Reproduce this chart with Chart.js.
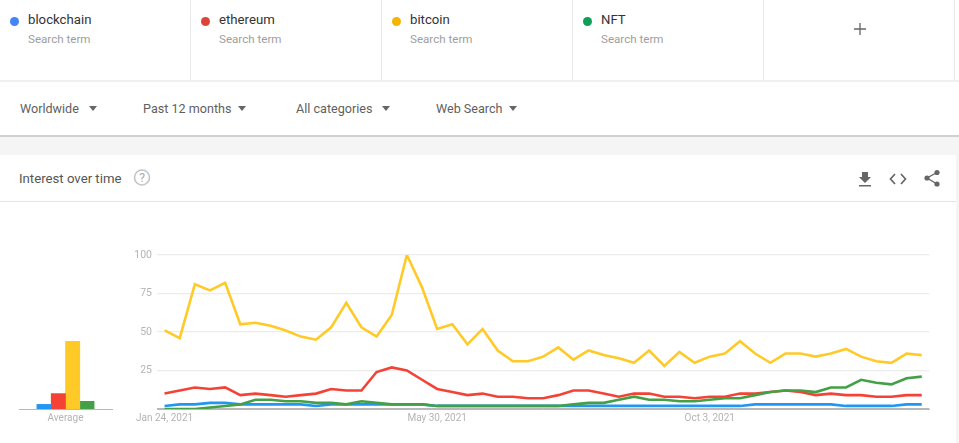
<!DOCTYPE html>
<html>
<head>
<meta charset="utf-8">
<title>Interest over time</title>
<script src="https://cdn.jsdelivr.net/npm/chart.js@4/dist/chart.umd.min.js"></script>
<style>
  html, body { margin: 0; padding: 0; background: #fff; }
  body { width: 959px; height: 443px; position: relative; overflow: hidden; font-family: Roboto, sans-serif; }
  .abs { position: absolute; }
  .cell { position: absolute; top: 0; width: 190px; height: 80px; border-right: 1px solid #e8e8e8; }
  .dot { position: absolute; width: 9px; height: 9px; border-radius: 50%; top: 16.5px; left: 9.5px; }
  .term { position: absolute; left: 28px; top: 11px; font-size: 13.2px; line-height: 17px; color: #333; white-space: nowrap; }
  .sub { position: absolute; left: 28px; top: 31.5px; font-size: 11.6px; line-height: 15px; color: #9e9e9e; white-space: nowrap; }
  .filter { position: absolute; top: 100.5px; font-size: 12.6px; line-height: 16px; color: #5f5f5f; white-space: nowrap; }
  .arrow { position: absolute; top: 106px; width: 0; height: 0; border-left: 4.5px solid transparent; border-right: 4.5px solid transparent; border-top: 5px solid #666; }
  canvas { position: absolute; display: block; }
</style>
</head>
<body>
  <div class="abs" style="left:0;top:80px;width:959px;height:1.5px;background:#f0f0f0"></div>

  <div class="cell" style="left:0"><span class="dot" style="background:#4285f4"></span><span class="term">blockchain</span><span class="sub">Search term</span></div>
  <div class="cell" style="left:191px"><span class="dot" style="background:#db4437"></span><span class="term">ethereum</span><span class="sub">Search term</span></div>
  <div class="cell" style="left:382px"><span class="dot" style="background:#f4b400"></span><span class="term">bitcoin</span><span class="sub">Search term</span></div>
  <div class="cell" style="left:573px"><span class="dot" style="background:#0f9d58"></span><span class="term">NFT</span><span class="sub">Search term</span></div>
  <div class="cell" style="left:764px"></div>
  <svg class="abs" style="left:853px;top:22px" width="14" height="14"><path d="M7 1V13M1 7H13" stroke="#666" stroke-width="1.3" fill="none"/></svg>

  <span class="filter" style="left:20px">Worldwide</span><span class="arrow" style="left:88.5px"></span>
  <span class="filter" style="left:143px">Past 12 months</span><span class="arrow" style="left:237.5px"></span>
  <span class="filter" style="left:296px">All categories</span><span class="arrow" style="left:381.5px"></span>
  <span class="filter" style="left:436px">Web Search</span><span class="arrow" style="left:508.5px"></span>

  <div class="abs" style="left:0;top:135px;width:959px;height:308px;background:#f5f5f5;border-top:2px solid #d0d0d0;box-sizing:border-box"></div>
  <div class="abs" style="left:0;top:155px;width:956px;height:288px;background:#fff"></div>
  <div class="abs" style="left:0;top:201px;width:956px;height:1px;background:#e4e4e4"></div>

  <span class="abs" style="left:19px;top:170px;font-size:13.2px;line-height:17px;color:#555;white-space:nowrap">Interest over time</span>
  <svg class="abs" style="left:133px;top:168px" width="18" height="18">
    <circle cx="9" cy="9.5" r="7.5" stroke="#c4c4c4" stroke-width="1.6" fill="none"/>
    <text x="9" y="13.5" text-anchor="middle" font-family="Roboto" font-size="12" fill="#aaa">?</text>
  </svg>
  <svg class="abs" style="left:857px;top:171px" width="16" height="16"><path d="M5 1H11V6H14L8 12L2 6H5ZM2 14H14V15.5H2Z" fill="#666"/></svg>
  <svg class="abs" style="left:889px;top:171px" width="18" height="16"><path d="M6 3L1.5 8L6 13M12 3L16.5 8L12 13" stroke="#666" stroke-width="1.7" fill="none"/></svg>
  <svg class="abs" style="left:923px;top:169px" width="18" height="18">
    <path d="M14 3.5L4 9L14 15" stroke="#666" stroke-width="1.4" fill="none"/>
    <circle cx="14" cy="3.5" r="2.6" fill="#666"/><circle cx="4" cy="9" r="2.6" fill="#666"/><circle cx="14" cy="15" r="2.6" fill="#666"/>
  </svg>

  <canvas id="avgChart" width="120" height="190" style="left:0;top:240px"></canvas>
  <canvas id="trendChart" width="839" height="190" style="left:120px;top:240px"></canvas>

<script>
const weeks = [
  'Jan 24, 2021', 'Jan 31, 2021', 'Feb 7, 2021', 'Feb 14, 2021', 'Feb 21, 2021', 'Feb 28, 2021',
  'Mar 7, 2021', 'Mar 14, 2021', 'Mar 21, 2021', 'Mar 28, 2021', 'Apr 4, 2021', 'Apr 11, 2021',
  'Apr 18, 2021', 'Apr 25, 2021', 'May 2, 2021', 'May 9, 2021', 'May 16, 2021', 'May 23, 2021',
  'May 30, 2021', 'Jun 6, 2021', 'Jun 13, 2021', 'Jun 20, 2021', 'Jun 27, 2021', 'Jul 4, 2021',
  'Jul 11, 2021', 'Jul 18, 2021', 'Jul 25, 2021', 'Aug 1, 2021', 'Aug 8, 2021', 'Aug 15, 2021',
  'Aug 22, 2021', 'Aug 29, 2021', 'Sep 5, 2021', 'Sep 12, 2021', 'Sep 19, 2021', 'Sep 26, 2021',
  'Oct 3, 2021', 'Oct 10, 2021', 'Oct 17, 2021', 'Oct 24, 2021', 'Oct 31, 2021', 'Nov 7, 2021',
  'Nov 14, 2021', 'Nov 21, 2021', 'Nov 28, 2021', 'Dec 5, 2021', 'Dec 12, 2021', 'Dec 19, 2021',
  'Dec 26, 2021', 'Jan 2, 2022', 'Jan 9, 2022'
];
const shownWeeks = ['Jan 24, 2021', 'May 30, 2021', 'Oct 3, 2021'];
const yTicks = [0, 25, 50, 75, 100];

const blockchain = [2,3,3,4,4,3,3,3,3,3,2,3,3,3,3,3,3,3,2,2,2,2,2,2,2,2,2,2,2,2,2,2,2,2,2,2,2,2,2,3,3,3,3,3,3,2,2,2,2,3,3];
const ethereum = [10,12,14,13,14,9,10,9,8,9,10,13,12,12,24,27,25,19,13,11,9,10,8,8,7,7,9,12,12,10,8,10,10,8,8,7,8,8,10,10,11,12,11,9,10,9,9,8,8,9,9];
const bitcoin = [51,46,81,77,82,55,56,54,51,47,45,53,69,53,47,61,100,79,52,55,42,52,38,31,31,34,40,32,38,35,33,30,38,28,37,30,34,36,44,36,30,36,36,34,36,39,34,31,30,36,35];
const nft = [0,0,0,1,2,3,6,6,5,5,4,4,3,5,4,3,3,3,2,2,2,2,2,2,2,2,2,3,4,4,6,8,6,6,5,5,6,7,7,9,11,12,12,11,14,14,19,17,16,20,21];

const averageLabel = ['Average'];
const averages = [3, 10, 44, 5];
const termNames = ['blockchain', 'ethereum', 'bitcoin', 'NFT'];
const lineColors = ['#2196f3', '#f44336', '#ffca28', '#43a047'];

const tickColor = '#b4b4b4';
const axisColor = '#b8b8b8';
const gridColor = '#ececec';

const trendSeries = [blockchain, ethereum, bitcoin, nft];

new Chart(document.getElementById('trendChart'), {
  type: 'line',
  data: {
    labels: weeks,
    datasets: trendSeries.map((values, i) => ({
      label: termNames[i],
      data: values,
      borderColor: lineColors[i],
      borderWidth: 2.6,
      pointRadius: 0,
      tension: 0,
      // google draws the later terms on top
      order: trendSeries.length - i
    }))
  },
  options: {
    responsive: false,
    animation: false,
    layout: { padding: { top: 15, right: 29.7, left: 0, bottom: 0 } },
    plugins: { legend: { display: false }, tooltip: { enabled: false } },
    scales: {
      x: {
        offset: true,
        afterFit: scale => { scale.height = 21; },
        grid: { display: false, drawTicks: false },
        border: { color: axisColor },
        ticks: {
          autoSkip: false,
          maxRotation: 0,
          padding: 3,
          color: tickColor,
          font: { family: 'Roboto', size: 10 },
          callback: function (value) {
            const name = this.getLabelForValue(value);
            return shownWeeks.includes(name) ? name : null;
          }
        }
      },
      y: {
        min: 0,
        max: 100,
        afterFit: scale => { scale.width = 37; },
        afterBuildTicks: scale => { scale.ticks = yTicks.map(value => ({ value })); },
        grid: {
          drawTicks: false,
          color: ctx => (ctx.tick.value === 0 ? axisColor : gridColor),
          lineWidth: 1.2
        },
        border: { display: false },
        ticks: {
          padding: 5,
          color: tickColor,
          font: { family: 'Roboto', size: 10.5 },
          callback: value => (value === 0 ? '' : value)
        }
      }
    }
  }
});

new Chart(document.getElementById('avgChart'), {
  type: 'bar',
  data: {
    labels: averageLabel,
    datasets: averages.map((value, i) => ({
      label: termNames[i],
      data: [value],
      backgroundColor: lineColors[i],
      barThickness: 14.3
    }))
  },
  options: {
    responsive: false,
    animation: false,
    layout: { padding: { top: 15, right: 8, left: 19, bottom: 0 } },
    plugins: { legend: { display: false }, tooltip: { enabled: false } },
    scales: {
      x: {
        afterFit: scale => { scale.height = 21; },
        grid: { display: false, drawTicks: false },
        border: { color: axisColor },
        ticks: { padding: 3, color: tickColor, font: { family: 'Roboto', size: 10 } }
      },
      y: { min: 0, max: 100, display: false }
    }
  }
});
</script>
</body>
</html>
